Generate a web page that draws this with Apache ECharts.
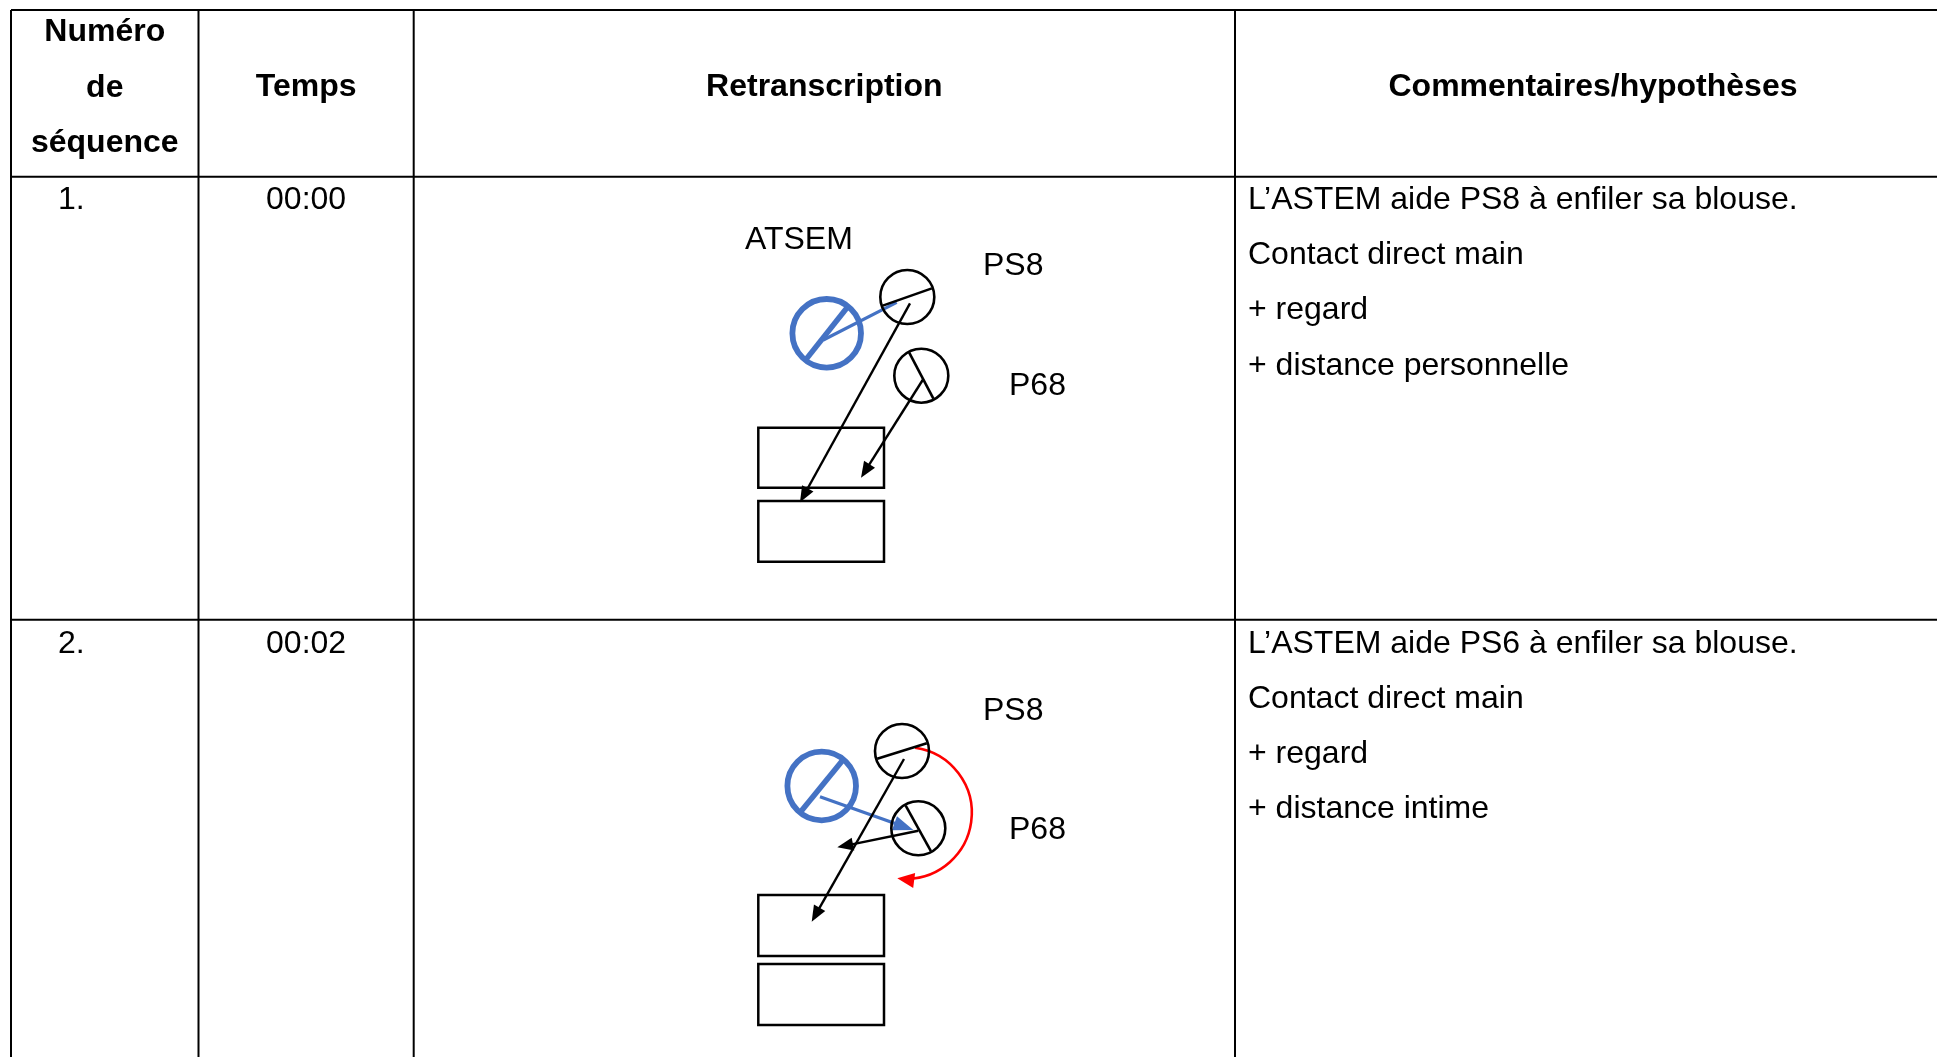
<!DOCTYPE html>
<html>
<head>
<meta charset="utf-8">
<script src="https://cdn.jsdelivr.net/npm/echarts@6/dist/echarts.min.js"></script>
<style>
html,body{margin:0;padding:0;background:#ffffff;}
#chart{width:1937px;height:1057px;}
</style>
</head>
<body>
<div id="chart"></div>
<script>
// ---------------- DATA ----------------
const headerLabels = [['Numéro', 'de', 'séquence'], ['Temps'], ['Retranscription'], ['Commentaires/hypothèses']];
const sequenceNumbers = ['1.', '2.'];
const sequenceTimes = ['00:00', '00:02'];
const sequenceComments = [
  ['L’ASTEM aide PS8 à enfiler sa blouse.', 'Contact direct main', '+ regard', '+ distance personnelle'],
  ['L’ASTEM aide PS6 à enfiler sa blouse.', 'Contact direct main', '+ regard', '+ distance intime']
];
// persons in the scene: [cx, cy, orientation (deg), adult?]
const diagramPersons = [
  [826.7, 333.3, -51.6, 1],
  [907.3, 297.0, -19.4, 0],
  [921.3, 375.7, 62.3, 0],
  [821.7, 786.0, -50.9, 1],
  [902.0, 751.0, -17.5, 0],
  [918.3, 828.3, 61.0, 0]
];
// person name labels: [text, x, y]
const personLabels = [
  ['ATSEM', 745, 240],
  ['PS8', 983, 266.5],
  ['P68', 1009, 385.7],
  ['PS8', 983, 711],
  ['P68', 1009, 830]
];
// tables: [x1, y1, x2, y2]
const tableRects = [
  [758.3, 427.7, 884, 487.7],
  [758.3, 501.0, 884, 561.7],
  [758.3, 895.0, 884, 956.0],
  [758.3, 964.0, 884, 1025.0]
];
// interactions: [x1, y1, x2, y2, kind]
const interactionArrows = [
  [823.3, 340.0, 896.7, 302.3, 'blueLine'],
  [910.0, 303.3, 800.0, 502.3, 'black'],
  [922.7, 380.0, 861.0, 477.7, 'black'],
  [820.0, 796.7, 913.3, 830.0, 'blue'],
  [904.0, 759.0, 811.7, 921.7, 'black'],
  [918.3, 830.7, 837.3, 847.3, 'black']
];
// turning arcs: [cx, cy, r, startDeg, endDeg]
const turnArcs = [
  [905.9, 813.0, 65.9, -82, 97.5]
];

// ---------------- LAYOUT / STYLE ----------------
const LAYOUT = {
  colX: [11, 198.5, 413.7, 1235, 1951],
  rowY: [10, 176.7, 619.7, 1075],
  headerLineY: [32.5, 88, 143.5],
  headerSingleY: 87.5,
  bodyFirstY: [200, 643.7],
  bodyStep: 55.3,
  numberX: 58,
  commentX: 1248
};
const FONT = '32px "Liberation Sans", Arial, sans-serif';
const FONT_B = 'bold 32px "Liberation Sans", Arial, sans-serif';
const BLUE = '#4472C4', RED = '#FF0000', BLACK = '#000000';

// build table line segments
const tableLines = [];
for (let r = 0; r < 3; r++) tableLines.push([LAYOUT.colX[0], LAYOUT.rowY[r], LAYOUT.colX[4], LAYOUT.rowY[r]]);
for (let c = 0; c < 5; c++) tableLines.push([LAYOUT.colX[c], LAYOUT.rowY[0], LAYOUT.colX[c], LAYOUT.rowY[3]]);

// build text items [text, x, y, align, bold]
const textItems = [];
headerLabels.forEach((lines, c) => {
  const cx = (LAYOUT.colX[c] + LAYOUT.colX[c + 1]) / 2;
  if (lines.length === 1) textItems.push([lines[0], cx, LAYOUT.headerSingleY, 'center', 1]);
  else lines.forEach((t, i) => textItems.push([t, cx, LAYOUT.headerLineY[i], 'center', 1]));
});
sequenceNumbers.forEach((n, r) => {
  const y = LAYOUT.bodyFirstY[r];
  textItems.push([n, LAYOUT.numberX, y, 'left', 0]);
  textItems.push([sequenceTimes[r], (LAYOUT.colX[1] + LAYOUT.colX[2]) / 2, y, 'center', 0]);
  sequenceComments[r].forEach((t, i) => textItems.push([t, LAYOUT.commentX, y + i * LAYOUT.bodyStep, 'left', 0]));
});
personLabels.forEach(p => textItems.push([p[0], p[1], p[2], 'left', 0]));

function arrowHead(tip, ux, uy, len, hw, color) {
  const bx = tip[0] - ux * len, by = tip[1] - uy * len;
  return {
    type: 'polygon',
    shape: { points: [tip, [bx - uy * hw, by + ux * hw], [bx + uy * hw, by - ux * hw]] },
    style: { fill: color, stroke: null }
  };
}

const chart = echarts.init(document.getElementById('chart'), null, { renderer: 'canvas' });
const option = {
  animation: false,
  backgroundColor: '#ffffff',
  grid: { left: 0, right: 0, top: 0, bottom: 0 },
  xAxis: { type: 'value', min: 0, max: 1937, show: false },
  yAxis: { type: 'value', min: 0, max: 1057, inverse: true, show: false },
  series: [
    {
      type: 'custom', name: 'table', silent: true,
      data: tableLines,
      renderItem: function (params, api) {
        const d = tableLines[params.dataIndex];
        const a = api.coord([d[0], d[1]]), b = api.coord([d[2], d[3]]);
        return { type: 'line', shape: { x1: a[0], y1: a[1], x2: b[0], y2: b[1] }, style: { stroke: BLACK, lineWidth: 2 } };
      }
    },
    {
      type: 'custom', name: 'tables', silent: true,
      data: tableRects,
      renderItem: function (params, api) {
        const d = tableRects[params.dataIndex];
        const a = api.coord([d[0], d[1]]), b = api.coord([d[2], d[3]]);
        return { type: 'rect', shape: { x: a[0], y: a[1], width: b[0] - a[0], height: b[1] - a[1] }, style: { fill: 'none', stroke: BLACK, lineWidth: 2.5 } };
      }
    },
    {
      type: 'custom', name: 'arrows', silent: true,
      data: interactionArrows,
      renderItem: function (params, api) {
        const d = interactionArrows[params.dataIndex];
        const a = api.coord([d[0], d[1]]), b = api.coord([d[2], d[3]]);
        const dx = b[0] - a[0], dy = b[1] - a[1], L = Math.hypot(dx, dy);
        const ux = dx / L, uy = dy / L;
        const color = d[4] === 'black' ? BLACK : BLUE;
        const lw = d[4] === 'black' ? 2.4 : 3.2;
        const children = [];
        if (d[4] === 'blueLine') {
          children.push({ type: 'line', shape: { x1: a[0], y1: a[1], x2: b[0], y2: b[1] }, style: { stroke: color, lineWidth: lw } });
        } else {
          const hl = d[4] === 'blue' ? 20 : 16, hw = d[4] === 'blue' ? 7.5 : 6.5;
          children.push({ type: 'line', shape: { x1: a[0], y1: a[1], x2: b[0] - ux * hl * 0.7, y2: b[1] - uy * hl * 0.7 }, style: { stroke: color, lineWidth: lw } });
          children.push(arrowHead(b, ux, uy, hl, hw, color));
        }
        return { type: 'group', children: children };
      }
    },
    {
      type: 'custom', name: 'arcs', silent: true,
      data: turnArcs,
      renderItem: function (params, api) {
        const d = turnArcs[params.dataIndex];
        const c = api.coord([d[0], d[1]]);
        const r = api.size([d[2], 0])[0];
        const s = d[3] * Math.PI / 180, e = d[4] * Math.PI / 180;
        const tip = [c[0] + r * Math.cos(e), c[1] + r * Math.sin(e)];
        const ux = -Math.sin(e), uy = Math.cos(e);
        const hl = 17;
        const eShort = e - (hl * 0.6) / r;
        return {
          type: 'group', children: [
            { type: 'arc', shape: { cx: c[0], cy: c[1], r: r, startAngle: s, endAngle: eShort, clockwise: true }, style: { fill: 'none', stroke: RED, lineWidth: 2.6 } },
            arrowHead(tip, ux, uy, hl, 7.5, RED)
          ]
        };
      }
    },
    {
      type: 'custom', name: 'persons', silent: true,
      data: diagramPersons,
      renderItem: function (params, api) {
        const d = diagramPersons[params.dataIndex];
        const c = api.coord([d[0], d[1]]);
        const adult = d[3] === 1;
        const r = api.size([adult ? 34.3 : 27, 0])[0];
        const lw = adult ? 5.8 : 2.6;
        const color = adult ? BLUE : BLACK;
        const ang = d[2] * Math.PI / 180;
        const lr = adult ? r - 2 : r - 1;
        return {
          type: 'group', children: [
            { type: 'circle', shape: { cx: c[0], cy: c[1], r: r }, style: { fill: 'none', stroke: color, lineWidth: lw } },
            { type: 'line', shape: { x1: c[0] - lr * Math.cos(ang), y1: c[1] - lr * Math.sin(ang), x2: c[0] + lr * Math.cos(ang), y2: c[1] + lr * Math.sin(ang) }, style: { stroke: color, lineWidth: adult ? 5.5 : 2.6 } }
          ]
        };
      }
    },
    {
      type: 'custom', name: 'texts', silent: true,
      data: textItems,
      renderItem: function (params, api) {
        const d = textItems[params.dataIndex];
        const p = api.coord([d[1], d[2]]);
        return {
          type: 'text', x: p[0], y: p[1],
          style: { text: d[0], font: d[4] ? FONT_B : FONT, fill: BLACK, align: d[3], verticalAlign: 'middle' }
        };
      }
    }
  ]
};
chart.setOption(option);
</script>
</body>
</html>
